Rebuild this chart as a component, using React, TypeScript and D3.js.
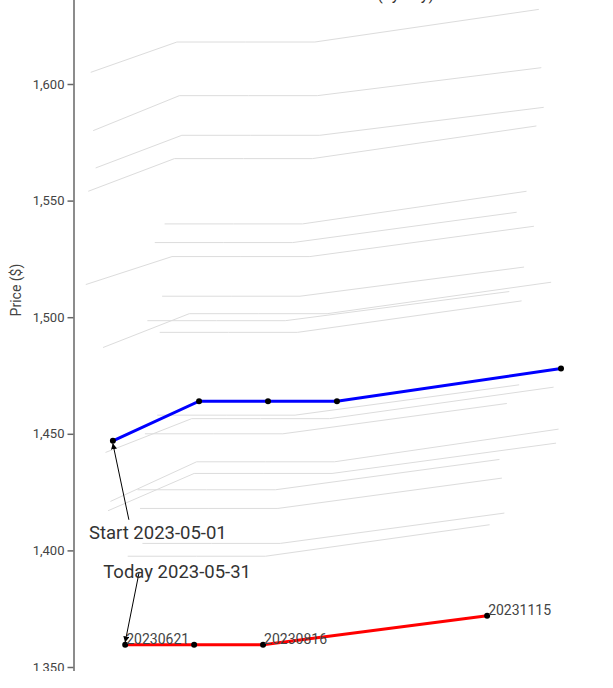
import * as d3 from 'd3';
import { useEffect, useRef } from 'react';

// contract expiries (x = days from curve date to expiry)
const contractExpiries = ['2023-05-17', '2023-06-21', '2023-07-19', '2023-08-16', '2023-11-15'];
const labelledContracts = ['2023-06-21', '2023-08-16', '2023-11-15'];

// daily curves between start and today, drawn in grey
const historyDates = [
  '2023-05-02', '2023-05-03', '2023-05-04', '2023-05-05', '2023-05-08',
  '2023-05-09', '2023-05-10', '2023-05-11', '2023-05-12', '2023-05-15',
  '2023-05-16', '2023-05-17', '2023-05-18', '2023-05-19', '2023-05-22',
  '2023-05-23', '2023-05-24', '2023-05-25', '2023-05-26', '2023-05-30',
];
const historyPrices: (number | null)[][] = [
  [1421, 1438, 1438, 1438, 1452],
  [1417, 1433, 1433, 1433, 1446],
  [1442, 1456.5, 1456.5, 1456.5, 1470],
  [1487, 1501.5, 1501.5, 1501.5, 1515],
  [1564, 1578, 1578, 1578, 1590],
  [1580, 1595, 1595, 1595, 1607],
  [1605, 1618, 1618, 1618, 1632],
  [1554, 1568, 1568, 1568, 1582],
  [1514, 1526, 1526, 1526, 1539],
  [null, 1540, 1540, 1540, 1554],
  [null, 1509, 1509, 1509, 1521.5],
  [null, 1493.5, 1493.5, 1493.5, 1507],
  [null, 1458, 1458, 1458, 1471],
  [null, 1532, 1532, 1532, 1545],
  [null, 1498.5, 1498.5, 1498.5, 1511],
  [null, 1450, 1450, 1450, 1463],
  [null, 1403, 1403, 1403, 1416],
  [null, 1418, 1418, 1418, 1431],
  [null, 1426, 1426, 1426, 1439],
  [null, 1397.5, 1397.5, 1397.5, 1411],
];

const startDate = '2023-05-01';
const startPrices: (number | null)[] = [1447, 1464, 1464, 1464, 1478];
const todayDate = '2023-05-31';
const todayPrices: (number | null)[] = [null, 1359.5, 1359.5, 1359.5, 1372];

const priceTicks = [1350, 1400, 1450, 1500, 1550, 1600];
const chartTitle = 'Futures Curve Evolution (by day)';

const parseDate = d3.utcParse('%Y-%m-%d');
const fmtExpiry = d3.utcFormat('%Y%m%d');

interface Pt {
  days: number;
  price: number;
  expiry: string;
}

const toPoints = (date: string, prices: (number | null)[]): Pt[] =>
  contractExpiries
    .map((e, i) => ({
      days: d3.utcDay.count(parseDate(date)!, parseDate(e)!),
      price: prices[i] as number,
      expiry: e,
    }))
    .filter((p) => prices[contractExpiries.indexOf(p.expiry)] != null);

function App() {
  const svgElement = useRef<SVGSVGElement | null>(null);

  const width = 613;
  const height = 671;

  useEffect(() => {
    const svg = d3.select(svgElement.current);
    svg.selectAll('*').remove();

    const startPts = toPoints(startDate, startPrices);
    const todayPts = toPoints(todayDate, todayPrices);
    const maxDays = d3.max(startPts, (d) => d.days) ?? 198;

    const x = d3.scaleLinear().domain([0, maxDays]).range([73.5, 561]);
    const y = d3.scaleLinear().domain([1350, 1600]).range([667, 84]);

    const line = d3
      .line<Pt>()
      .x((d) => x(d.days))
      .y((d) => y(d.price));

    svg
      .append('defs')
      .append('marker')
      .attr('id', 'arrow')
      .attr('viewBox', '0 0 10 10')
      .attr('refX', 9)
      .attr('refY', 5)
      .attr('markerWidth', 6)
      .attr('markerHeight', 6)
      .attr('orient', 'auto')
      .append('path')
      .attr('d', 'M0,0L10,5L0,10Z')
      .attr('fill', '#000');

    // title, mostly above the visible area
    svg
      .append('text')
      .attr('x', 434)
      .attr('y', -0.5)
      .attr('text-anchor', 'end')
      .attr('font-size', 16)
      .attr('fill', '#333')
      .text(chartTitle);

    // grey history curves
    svg
      .append('g')
      .selectAll('path')
      .data(historyDates.map((d, i) => toPoints(d, historyPrices[i])))
      .join('path')
      .attr('d', (d) => line(d))
      .attr('fill', 'none')
      .attr('stroke', '#dcdcdc')
      .attr('stroke-width', 1);

    // y axis, its line running past the visible top and bottom
    const yAxis = svg
      .append('g')
      .attr('transform', `translate(${x(0)},0)`)
      .call(
        d3
          .axisLeft(y.copy().domain([1340, 1650]).range([y(1340), y(1650)]))
          .tickValues(priceTicks)
          .tickFormat(d3.format(','))
          .tickSize(6)
          .tickSizeOuter(0),
      );
    yAxis.select('.domain').attr('stroke', '#666').attr('stroke-width', 1.5);
    yAxis.selectAll('.tick line').attr('stroke', '#666').attr('stroke-width', 1.5);
    yAxis
      .selectAll('.tick text')
      .attr('fill', '#444')
      .attr('font-size', 13)
      .attr('font-family', 'Roboto, sans-serif');

    svg
      .append('text')
      .attr('transform', 'translate(21, 290) rotate(-90)')
      .attr('text-anchor', 'middle')
      .attr('font-size', 14)
      .attr('fill', '#444')
      .text('Price ($)');

    // start and today curves
    const drawCurve = (pts: Pt[], color: string) => {
      svg
        .append('path')
        .attr('d', line(pts))
        .attr('fill', 'none')
        .attr('stroke', color)
        .attr('stroke-width', 3);
      svg
        .append('g')
        .selectAll('circle')
        .data(pts)
        .join('circle')
        .attr('cx', (d) => x(d.days))
        .attr('cy', (d) => y(d.price))
        .attr('r', 3)
        .attr('fill', '#000');
    };
    drawCurve(startPts, '#0000ff');
    drawCurve(todayPts, '#ff0000');

    // expiry labels on today's curve
    svg
      .append('g')
      .selectAll('text')
      .data(todayPts.filter((d) => labelledContracts.includes(d.expiry)))
      .join('text')
      .attr('x', (d) => x(d.days) + 1)
      .attr('y', (d) => y(d.price) - 1)
      .attr('font-size', 14)
      .attr('fill', '#444')
      .text((d) => fmtExpiry(parseDate(d.expiry)!));

    // annotations
    const annotate = (p: Pt, label: string, tx: number, ty: number, ax: number, ay: number, tip: number) => {
      const px = x(p.days);
      const py = y(p.price);
      svg
        .append('line')
        .attr('x1', px + ax)
        .attr('y1', py + ay)
        .attr('x2', px)
        .attr('y2', py + tip)
        .attr('stroke', '#000')
        .attr('stroke-width', 1)
        .attr('marker-end', 'url(#arrow)');
      svg
        .append('text')
        .attr('x', px + tx)
        .attr('y', py + ty)
        .attr('font-size', 18.5)
        .attr('fill', '#333')
        .text(label);
    };
    annotate(startPts[0], `Start ${startDate}`, -24, 98, 16, 79, 3);
    annotate(todayPts[0], `Today ${todayDate}`, -22, -67, 14, -73, -3);
  }, []);

  return (
    <svg
      ref={svgElement}
      width={width}
      height={height}
      style={{ position: 'absolute', left: 0, top: 0, fontFamily: 'Roboto, sans-serif' }}
    />
  );
}

export default App;
